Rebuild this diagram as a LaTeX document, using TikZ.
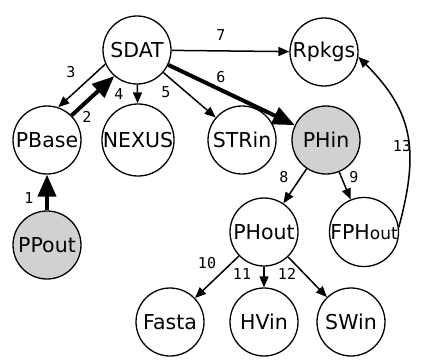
\documentclass[tikz,border=0pt]{standalone}
\usepackage{fontspec}
\setmainfont{DejaVu Sans}
\newfontfamily\lblfont{DejaVu Sans Mono}
\usetikzlibrary{arrows.meta}
\begin{document}
\begin{tikzpicture}[x=1pt,y=1pt,
  vtx/.style={circle,draw,line width=1.3pt,minimum size=68pt,inner sep=0pt,font=\fontsize{20.5}{22}\selectfont},
  graynode/.style={vtx,fill=black!18},
  edge/.style={line width=1.5pt,-{Triangle[length=11pt,width=9pt]}},
  bold/.style={line width=4pt,-{Triangle[length=22pt,width=18pt]}},
  lbl/.style={font=\lblfont\fontsize{15}{17}\selectfont,inner sep=0pt}]
\useasboundingbox (0,0) rectangle (422,-361);
\node[vtx] (SDAT) at (137,-50) {SDAT};
\node[vtx] (Rpkgs) at (324,-52) {Rpkgs};
\node[vtx] (PBase) at (47,-140) {PBase};
\node[vtx] (NEXUS) at (138,-140) {NEXUS};
\node[vtx] (STRin) at (242,-140) {STRin};
\node[graynode] (PHin) at (326,-140) {PHin};
\node[graynode] (PPout) at (47,-245) {PPout};
\node[vtx] (PHout) at (264,-232) {PHout};
\node[vtx] (FPHout) at (364,-232) {FPH\fontsize{17}{18}\selectfont out};
\node[vtx] (Fasta) at (170,-322) {Fasta};
\node[vtx] (HVin) at (264,-322) {HVin};
\node[vtx] (SWin) at (351,-322) {SWin};
\draw[bold] (PPout) -- (PBase);
\draw[bold] (PBase.45) -- (SDAT.229);
\draw[edge] (SDAT.204) -- (PBase.71);
\draw[edge] (SDAT) -- (NEXUS);
\draw[edge] (SDAT) -- (STRin);
\draw[bold] (SDAT) -- (PHin);
\draw[edge] (SDAT) -- (Rpkgs);
\draw[edge] (PHin) -- (PHout);
\draw[edge] (PHin) -- (FPHout);
\draw[edge] (PHout) -- (Fasta);
\draw[edge] (PHout) -- (HVin);
\draw[edge] (PHout) -- (SWin);
\draw[edge] (FPHout.8) to[out=75,in=-45,looseness=1.15] (Rpkgs.-8);
\node[lbl] (l1) at (29,-198) {1};
\node[lbl] (l2) at (87,-117) {2};
\node[lbl] (l3) at (71,-72) {3};
\node[lbl] (l4) at (119,-94) {4};
\node[lbl] (l5) at (166,-92) {5};
\node[lbl] (l6) at (221,-77) {6};
\node[lbl] (l7) at (221,-35) {7};
\node[lbl] (l8) at (284,-177) {8};
\node[lbl] (l9) at (354,-177) {9};
\node[lbl] (l10) at (207,-263) {10};
\node[lbl] (l11) at (242,-274) {11};
\node[lbl] (l12) at (287,-274) {12};
\node[lbl] (l13) at (402,-146) {13};
\end{tikzpicture}
\end{document}
